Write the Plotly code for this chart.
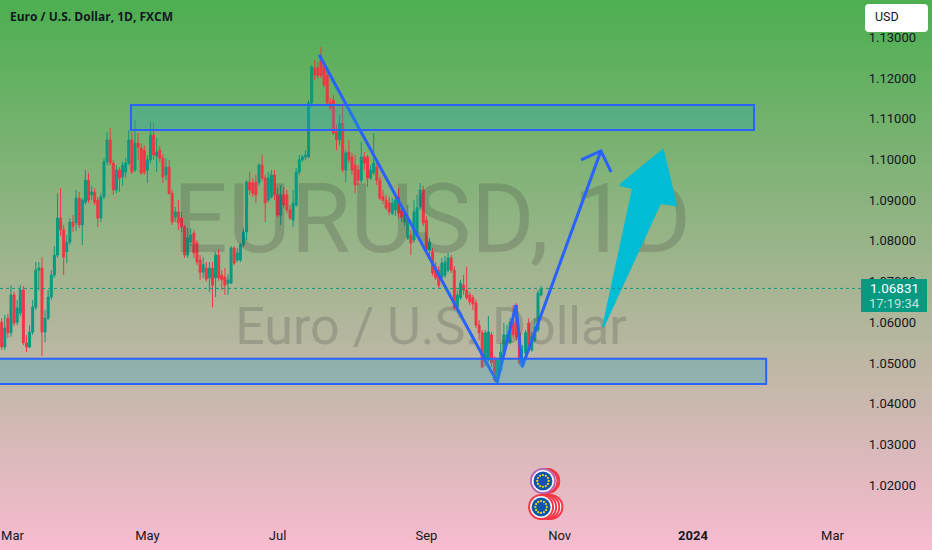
import math
import numpy as np
import plotly.graph_objects as go

# --- daily bars ---
opens = [1.0600,1.0539,1.0610,1.0574,1.0667,1.0600,1.0623,1.0679,1.0549,1.0539,1.0576,1.0637,1.0728,1.0733,1.0576,1.0610,1.0662,1.0716,1.0765,1.0856,
1.0827,1.0773,1.0797,1.0846,1.0844,1.0905,1.0839,1.0895,1.0949,1.0913,1.0920,1.0900,1.0856,1.0908,1.0994,1.1048,1.0991,1.0925,1.0974,1.0957,
1.0969,1.0991,1.1048,1.0974,1.1040,1.1028,1.1023,1.0974,1.0999,1.1060,1.1008,1.1023,1.1003,1.0962,1.0981,1.0917,1.0858,1.0871,1.0856,1.0834,
1.0765,1.0797,1.0819,1.0795,1.0753,1.0723,1.0733,1.0709,1.0733,1.0709,1.0765,1.0716,1.0711,1.0696,1.0696,1.0782,1.0753,1.0753,1.0790,1.0822,
1.0944,1.0942,1.0944,1.0942,1.0986,1.0954,1.0900,1.0908,1.0962,1.0913,1.0863,1.0913,1.0913,1.0876,1.0851,1.0888,1.0969,1.0999,1.1006,1.1006,
1.1139,1.1225,1.1225,1.1244,1.1227,1.1207,1.1139,1.1146,1.1067,1.1048,1.1089,1.0974,1.1018,1.1006,1.0986,1.0974,1.0949,1.1006,1.1006,1.0954,
1.0967,1.0981,1.0949,1.0908,1.0900,1.0893,1.0868,1.0876,1.0908,1.0876,1.0846,1.0807,1.0814,1.0802,1.0819,1.0883,1.0925,1.0851,1.0777,1.0773,
1.0736,1.0728,1.0711,1.0716,1.0728,1.0758,1.0728,1.0637,1.0660,1.0691,1.0679,1.0667,1.0660,1.0647,1.0593,1.0574,1.0502,1.0507,1.0569,1.0507,
1.0453,1.0482,1.0527,1.0549,1.0551,1.0600,1.0642,1.0574,1.0500,1.0524,1.0598,1.0532,1.0556,1.0581,1.0667]
highs = [1.0610,1.0618,1.0620,1.0691,1.0674,1.0655,1.0691,1.0689,1.0569,1.0593,1.0655,1.0748,1.0748,1.0760,1.0630,1.0679,1.0728,1.0787,1.0917,1.0930,
1.0839,1.0814,1.0856,1.0863,1.0925,1.0920,1.0905,1.0974,1.0967,1.0935,1.0930,1.0908,1.0917,1.1003,1.1067,1.1077,1.0999,1.0986,1.0981,1.0994,
1.1003,1.1072,1.1067,1.1097,1.1065,1.1040,1.1035,1.1011,1.1092,1.1092,1.1053,1.1033,1.1013,1.1003,1.0999,1.0925,1.0883,1.0900,1.0871,1.0839,
1.0831,1.0831,1.0827,1.0802,1.0765,1.0760,1.0748,1.0748,1.0748,1.0773,1.0780,1.0728,1.0733,1.0718,1.0787,1.0787,1.0782,1.0795,1.0831,1.0949,
1.0969,1.0954,1.0962,1.0991,1.1011,1.0962,1.0969,1.0974,1.0974,1.0930,1.0937,1.0932,1.0925,1.0888,1.0925,1.0979,1.1011,1.1011,1.1023,1.1146,
1.1232,1.1244,1.1239,1.1276,1.1239,1.1220,1.1151,1.1158,1.1085,1.1109,1.1134,1.1023,1.1048,1.1016,1.1011,1.0986,1.1043,1.1018,1.1011,1.0986,
1.1065,1.0994,1.0957,1.0925,1.0913,1.0908,1.0905,1.0913,1.0930,1.0888,1.0878,1.0888,1.0827,1.0900,1.0913,1.0942,1.0935,1.0861,1.0807,1.0782,
1.0748,1.0738,1.0758,1.0763,1.0770,1.0765,1.0738,1.0679,1.0704,1.0716,1.0736,1.0674,1.0667,1.0655,1.0605,1.0581,1.0581,1.0615,1.0576,1.0517,
1.0512,1.0549,1.0598,1.0593,1.0610,1.0642,1.0647,1.0581,1.0544,1.0581,1.0610,1.0576,1.0610,1.0679,1.0689]
lows = [1.0532,1.0532,1.0561,1.0564,1.0591,1.0593,1.0615,1.0544,1.0527,1.0537,1.0569,1.0630,1.0679,1.0517,1.0551,1.0605,1.0655,1.0709,1.0758,1.0812,
1.0716,1.0745,1.0790,1.0822,1.0824,1.0831,1.0790,1.0888,1.0893,1.0900,1.0888,1.0834,1.0846,1.0903,1.0986,1.0986,1.0913,1.0917,1.0920,1.0935,
1.0954,1.0986,1.0964,1.0969,1.0999,1.0962,1.0962,1.0942,1.0991,1.0999,1.0969,1.0994,1.0942,1.0949,1.0913,1.0839,1.0846,1.0827,1.0822,1.0758,
1.0758,1.0787,1.0758,1.0741,1.0704,1.0709,1.0699,1.0674,1.0637,1.0662,1.0701,1.0679,1.0667,1.0667,1.0694,1.0741,1.0748,1.0748,1.0785,1.0802,
1.0913,1.0908,1.0893,1.0935,1.0947,1.0846,1.0895,1.0903,1.0900,1.0858,1.0839,1.0881,1.0868,1.0851,1.0834,1.0883,1.0962,1.0994,1.0999,1.1003,
1.1129,1.1195,1.1200,1.1200,1.1178,1.1131,1.1121,1.1060,1.1023,1.1035,1.0969,1.0944,1.0991,1.0962,1.0917,1.0937,1.0942,1.0974,1.0932,1.0949,
1.0962,1.0937,1.0900,1.0890,1.0876,1.0863,1.0863,1.0861,1.0856,1.0846,1.0836,1.0802,1.0765,1.0795,1.0814,1.0876,1.0836,1.0773,1.0753,1.0714,
1.0704,1.0684,1.0704,1.0709,1.0723,1.0721,1.0630,1.0625,1.0655,1.0667,1.0655,1.0642,1.0630,1.0586,1.0556,1.0487,1.0492,1.0502,1.0490,1.0453,
1.0451,1.0478,1.0519,1.0544,1.0546,1.0561,1.0556,1.0495,1.0490,1.0512,1.0527,1.0527,1.0551,1.0576,1.0664]
closes = [1.0539,1.0586,1.0574,1.0667,1.0598,1.0635,1.0679,1.0549,1.0539,1.0576,1.0637,1.0728,1.0733,1.0576,1.0610,1.0662,1.0716,1.0765,1.0856,1.0827,
1.0760,1.0797,1.0846,1.0836,1.0905,1.0839,1.0900,1.0949,1.0900,1.0920,1.0895,1.0856,1.0908,1.0994,1.1048,1.0991,1.0925,1.0974,1.0954,1.0986,
1.0991,1.1048,1.0969,1.1040,1.1030,1.0967,1.0969,1.0999,1.1060,1.1011,1.1018,1.1003,1.0957,1.0981,1.0917,1.0846,1.0871,1.0844,1.0834,1.0765,
1.0807,1.0814,1.0770,1.0748,1.0723,1.0741,1.0706,1.0733,1.0691,1.0765,1.0709,1.0704,1.0691,1.0704,1.0782,1.0745,1.0770,1.0790,1.0822,1.0944,
1.0925,1.0917,1.0913,1.0986,1.0954,1.0893,1.0954,1.0962,1.0913,1.0863,1.0913,1.0888,1.0876,1.0856,1.0893,1.0969,1.0999,1.1006,1.1011,1.1139,
1.1227,1.1207,1.1207,1.1207,1.1183,1.1139,1.1126,1.1065,1.1048,1.1089,1.0974,1.1016,1.0999,1.0974,1.0937,1.0949,1.1006,1.0991,1.0954,1.0974,
1.0991,1.0949,1.0905,1.0900,1.0881,1.0871,1.0893,1.0900,1.0868,1.0858,1.0868,1.0851,1.0795,1.0871,1.0881,1.0925,1.0844,1.0777,1.0797,1.0721,
1.0709,1.0691,1.0745,1.0748,1.0758,1.0728,1.0637,1.0667,1.0696,1.0679,1.0660,1.0650,1.0645,1.0593,1.0574,1.0490,1.0574,1.0576,1.0500,1.0458,
1.0507,1.0527,1.0569,1.0569,1.0600,1.0569,1.0564,1.0500,1.0512,1.0574,1.0532,1.0564,1.0588,1.0672,1.0683]

# --- axis labels ---
price_ticks = [1.02,1.03,1.04,1.05,1.06,1.07,1.08,1.09,1.10,1.11,1.12,1.13]
time_ticks = [3.5,47,89,137,180,223,268]
time_labels = ["Mar","May","Jul","Sep","Nov","<b>2024</b>","Mar"]

# --- drawings, in bar number and price ---
zone_upper_x = [41.7,242.7]
zone_upper_y = [1.1072,1.1134]
zone_lower_x = [-1.5,246.6]
zone_lower_y = [1.0448,1.0510]
path_x = [102.4,159.8,165.9,167.9,193.3]
path_y = [1.1257,1.0453,1.0642,1.0490,1.1021]
head_x = [186.9,193.3,196.6]
head_y = [1.0999,1.1021,1.0969]
arrow_x = [194.0,203.7,199.5,213.3,217.5,212.4,194.0]
arrow_y = [1.0588,1.0930,1.0937,1.1023,1.0888,1.0893,1.0588]
last_price = 1.06831
event_x_top = [174.6,175.4,176.0]
event_x_bottom = [174.0,175.0,176.0,177.0]
event_y_top = 1.0210
event_y_bottom = 1.0146

BLUE = "#2962ff"
GREEN = "#089981"
RED = "#f23645"
XR = [-0.54,300.1]
YR = [1.00404,1.13917]

fig = go.Figure()

# background gradient
rows = np.linspace(YR[0],YR[1],276)
fig.add_trace(go.Heatmap(x=XR,y=rows,z=[[v,v] for v in np.linspace(0,1,276)],
    colorscale=[[0,"#f8bbd0"],[1,"#4caf50"]],showscale=False,hoverinfo="skip"))

# watermarks
fig.add_trace(go.Scatter(x=[138.8],y=[1.0832],mode="text",text=["EURUSD, 1D"],
    textfont=dict(family="Roboto",size=97,color="rgba(60,60,60,0.22)"),hoverinfo="skip"))
fig.add_trace(go.Scatter(x=[138.5],y=[1.0579],mode="text",text=["Euro / U.S. Dollar"],
    textfont=dict(family="Roboto",size=52,color="rgba(60,60,60,0.22)"),hoverinfo="skip"))

# candles
fig.add_trace(go.Candlestick(x=list(range(len(closes))),open=opens,high=highs,low=lows,close=closes,
    increasing=dict(line=dict(color=GREEN,width=1),fillcolor=GREEN),
    decreasing=dict(line=dict(color=RED,width=1),fillcolor=RED),
    whiskerwidth=0,hoverinfo="skip"))

# cyan arrow
fig.add_trace(go.Scatter(x=arrow_x,y=arrow_y,mode="lines",fill="toself",fillcolor="#00bcd4",
    line=dict(color="#00bcd4",width=2,shape="linear"),hoverinfo="skip"))
# zigzag and head
fig.add_trace(go.Scatter(x=path_x,y=path_y,mode="lines",line=dict(color=BLUE,width=3),hoverinfo="skip"))
fig.add_trace(go.Scatter(x=head_x,y=head_y,mode="lines",line=dict(color=BLUE,width=3),hoverinfo="skip"))

# event badges
def badge(xs,y,edge):
    fig.add_trace(go.Scatter(x=xs[1:][::-1],y=[y]*(len(xs)-1),mode="markers",
        marker=dict(size=24,color="white",line=dict(color=RED,width=2)),hoverinfo="skip"))
    fig.add_trace(go.Scatter(x=[xs[0]],y=[y],mode="markers",
        marker=dict(size=24,color="white",line=dict(color=edge,width=2)),hoverinfo="skip"))
    fig.add_trace(go.Scatter(x=[xs[0]],y=[y],mode="markers",
        marker=dict(size=19,color="#0f55a8"),hoverinfo="skip"))
    ang = np.arange(12)*math.pi/6
    fig.add_trace(go.Scatter(x=xs[0]+1.85*np.cos(ang),y=y+0.00145*np.sin(ang),mode="markers",
        marker=dict(size=2.2,color="#f7d417"),hoverinfo="skip"))
badge(event_x_top,event_y_top,"#b565b8")
badge(event_x_bottom,event_y_bottom,RED)

ZONE_FILL = "rgba(33,165,190,0.30)"
shapes = [
    dict(type="rect",xref="x",yref="y",x0=zone_upper_x[0],x1=zone_upper_x[1],y0=zone_upper_y[0],y1=zone_upper_y[1],
         fillcolor=ZONE_FILL,line=dict(color=BLUE,width=2),layer="above"),
    dict(type="rect",xref="x",yref="y",x0=zone_lower_x[0],x1=zone_lower_x[1],y0=zone_lower_y[0],y1=zone_lower_y[1],
         fillcolor=ZONE_FILL,line=dict(color=BLUE,width=2),layer="above"),
    dict(type="line",xref="paper",yref="y",x0=0,x1=861/932,y0=last_price,y1=last_price,
         line=dict(color=GREEN,width=1,dash="dot"),layer="above"),
    dict(type="rect",xref="paper",yref="paper",x0=861/932,x1=927/932,y0=1-312/550,y1=1-279/550,
         fillcolor=GREEN,line=dict(width=0),layer="above"),
]
# USD button with rounded corners
bx0,bx1,by0,by1 = 865/932,928/932,1-32/550,1-4/550
rx,ry = 4/932,4/550
shapes.append(dict(type="path",xref="paper",yref="paper",layer="above",fillcolor="white",line=dict(width=0),
    path=f"M {bx0+rx} {by0} L {bx1-rx} {by0} Q {bx1} {by0} {bx1} {by0+ry} L {bx1} {by1-ry} Q {bx1} {by1} {bx1-rx} {by1} "
         f"L {bx0+rx} {by1} Q {bx0} {by1} {bx0} {by1-ry} L {bx0} {by0+ry} Q {bx0} {by0} {bx0+rx} {by0} Z"))

def note(text,px,py,size,color,anchor="center",family="Roboto"):
    return dict(text=text,xref="paper",yref="paper",x=px/932,y=1-py/550,xanchor=anchor,yanchor="middle",
                showarrow=False,font=dict(family=family,size=size,color=color))

annotations = [
    note("<b>Euro / U.S. Dollar, 1D, FXCM</b>",8,17,12,"#131722","left","Open Sans"),
    note("USD",887,17,12.5,"#131722"),
    note("1.06831",894,288,13.5,"#ffffff"),
    note("17:19:34",894,303,13,"rgba(255,255,255,0.75)"),
]

fig.update_layout(
    width=932,height=550,margin=dict(l=0,r=0,t=0,b=0),autosize=False,showlegend=False,
    paper_bgcolor="#ffffff",plot_bgcolor="#ffffff",shapes=shapes,annotations=annotations,hovermode=False,
    boxgap=0.1,
    font=dict(family="Roboto",size=13,color="#131722"),
    xaxis=dict(range=XR,tickmode="array",tickvals=time_ticks,ticktext=time_labels,rangeslider=dict(visible=False),
        ticklabelposition="inside",showgrid=True,gridcolor="rgba(240,243,250,0.14)",gridwidth=1,zeroline=False,
        showline=False,ticks="",ticklabelstandoff=4,tickfont=dict(family="Roboto",size=13,color="#131722")),
    yaxis=dict(range=YR,side="right",tickmode="array",tickvals=price_ticks,tickformat=".5f",
        ticklabelposition="inside",showgrid=True,gridcolor="rgba(240,243,250,0.14)",gridwidth=1,zeroline=False,
        showline=False,ticks="",ticklabelstandoff=13,tickfont=dict(family="Roboto",size=13,color="#131722")),
)
assert len(opens)==len(highs)==len(lows)==len(closes)
fig.write_html("out.html",config={"displayModeBar":False},
    post_script="document.body.style.margin='0';document.documentElement.style.overflow='hidden';")
